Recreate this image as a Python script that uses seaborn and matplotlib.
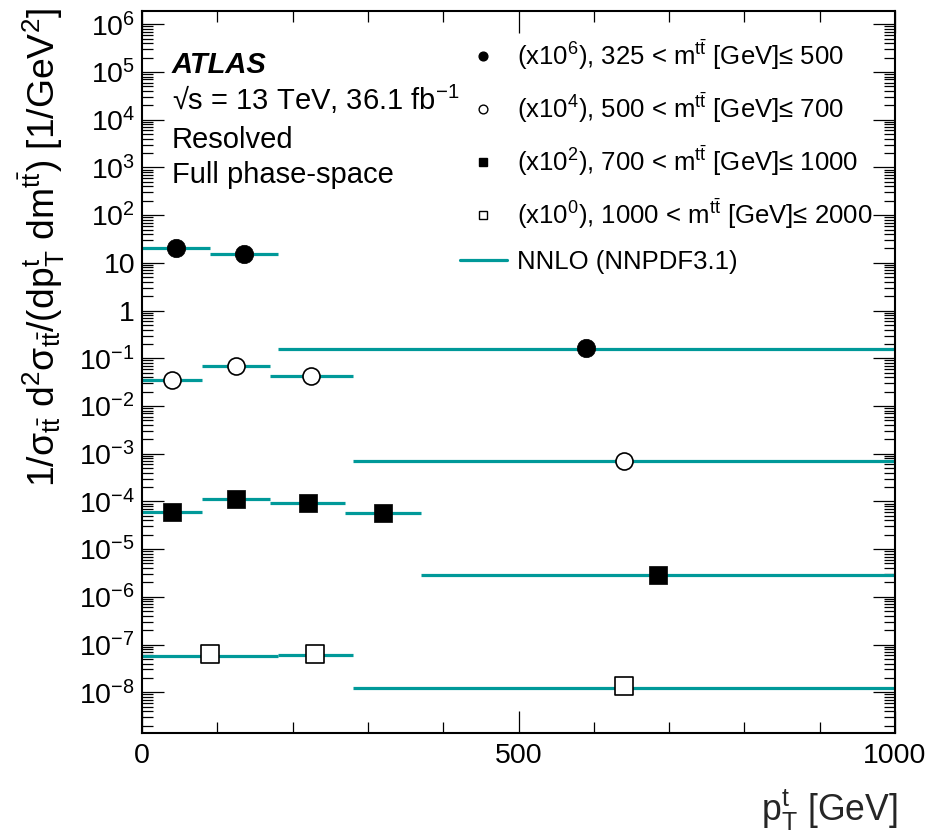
import numpy as np
import pandas as pd
import matplotlib
matplotlib.use("Agg")
import matplotlib.pyplot as plt
import seaborn as sns
from matplotlib.lines import Line2D
from matplotlib.ticker import FixedLocator, MultipleLocator, LogLocator, NullFormatter, FuncFormatter

# ---------------- data ----------------
edges_325_500 = [0, 90, 180, 1000]
meas_325_500 = [20.1, 15.1, 0.161]
nnlo_325_500 = [20.0, 15.0, 0.160]

edges_500_700 = [0, 80, 170, 280, 1000]
meas_500_700 = [0.0349, 0.0697, 0.0430, 7.1e-4]
nnlo_500_700 = [0.0350, 0.0700, 0.0435, 7.1e-4]

edges_700_1000 = [0, 80, 170, 270, 370, 1000]
meas_700_1000 = [6.05e-5, 1.12e-4, 9.2e-5, 5.6e-5, 2.89e-6]
nnlo_700_1000 = [6.0e-5, 1.12e-4, 9.2e-5, 5.7e-5, 2.86e-6]

edges_1000_2000 = [0, 180, 280, 1000]
meas_1000_2000 = [6.2e-8, 6.2e-8, 1.36e-8]
nnlo_1000_2000 = [5.8e-8, 5.9e-8, 1.2e-8]

labels = [
    r"(x10$^{6}$), 325 < m$^{t\bar{t}}$ [GeV]≤ 500",
    r"(x10$^{4}$), 500 < m$^{t\bar{t}}$ [GeV]≤ 700",
    r"(x10$^{2}$), 700 < m$^{t\bar{t}}$ [GeV]≤ 1000",
    r"(x10$^{0}$), 1000 < m$^{t\bar{t}}$ [GeV]≤ 2000",
]
nnlo_label = "NNLO (NNPDF3.1)"
ytick_exponents = list(range(-8, 7))

# ---------------- style ----------------
sns.set_theme(style="ticks")
plt.rcParams.update({
    "font.family": ["Liberation Sans", "DejaVu Sans"],
    "mathtext.fontset": "custom",
    "mathtext.rm": "Liberation Sans",
    "mathtext.it": "Liberation Sans:italic",
    "mathtext.bf": "Liberation Sans:bold",
    "mathtext.sf": "Liberation Sans",
    "mathtext.default": "regular",
    "axes.linewidth": 1.5,
    "axes.edgecolor": "black",
    "text.color": "black",
    "xtick.color": "black",
    "ytick.color": "black",
})

TEAL = "#009999"

fig = plt.figure(figsize=(9.3, 8.38), dpi=100)
ax = fig.add_axes([142 / 930, 105 / 838, 753 / 930, 722 / 838])

series = [
    (edges_325_500, meas_325_500, nnlo_325_500, "o", "black", 175),
    (edges_500_700, meas_500_700, nnlo_500_700, "o", "white", 150),
    (edges_700_1000, meas_700_1000, nnlo_700_1000, "s", "black", 160),
    (edges_1000_2000, meas_1000_2000, nnlo_1000_2000, "s", "white", 160),
]

for edges, meas, nnlo, mk, fc, size in series:
    e = np.asarray(edges, dtype=float)
    ax.hlines(nnlo, e[:-1], e[1:], color=TEAL, lw=2.3, zorder=2)
    df = pd.DataFrame({"pt": 0.5 * (e[:-1] + e[1:]), "val": meas})
    sns.scatterplot(data=df, x="pt", y="val", marker=mk, s=size,
                    facecolor=fc, edgecolor="black",
                    linewidth=1.2 if fc == "white" else 0.5,
                    ax=ax, zorder=3, legend=False)

ax.set_yscale("log")
ax.set_xlim(0, 1000)
ax.set_ylim(1.4e-9, 1.9e6)

ax.xaxis.set_major_locator(FixedLocator([0, 500, 1000]))
ax.xaxis.set_minor_locator(MultipleLocator(100))
ax.yaxis.set_major_locator(FixedLocator([10.0 ** k for k in ytick_exponents]))
ax.yaxis.set_minor_locator(LogLocator(base=10, subs=np.arange(2, 10), numticks=100))
ax.yaxis.set_minor_formatter(NullFormatter())


def yfmt(v, pos):
    k = int(round(np.log10(v)))
    if k == 0:
        return "1"
    if k == 1:
        return "10"
    return r"$10^{%d}$" % k


ax.yaxis.set_major_formatter(FuncFormatter(yfmt))
ax.tick_params(which="both", direction="in", top=True, right=True,
               width=0.9, labelsize=20.5)
ax.tick_params(which="major", length=15.8)
ax.tick_params(which="minor", length=7.9)
ax.tick_params(axis="y", which="major", pad=5)
ax.tick_params(axis="x", which="major", pad=7)

ax.set_xlabel(r"p$_{T}^{t}$ [GeV]", fontsize=25.7, loc="right")
ax.xaxis.set_label_coords(1.0 + 3 / 753, -0.075)
ax.set_ylabel("")
fig.text(42 / 930, 1 - 8 / 838,
         r"1/$\sigma_{t\bar{t}}$ d$^{2}\sigma_{t\bar{t}}$/(dp$_{T}^{t}$ dm$^{t\bar{t}}$) [1/GeV$^{2}$]",
         rotation=90, ha="center", va="top", fontsize=26.8)

# annotations
fig.text(171.7 / 930, 1 - 72.7 / 838, "ATLAS", fontsize=21, fontweight="bold",
         fontstyle="italic", va="baseline", ha="left")
fig.text(171.7 / 930, 1 - 110 / 838, r"√s = 13 TeV, 36.1 fb$^{-1}$",
         fontsize=21, va="baseline", ha="left")
fig.text(171.7 / 930, 1 - 147.7 / 838, "Resolved", fontsize=21, va="baseline", ha="left")
fig.text(171.7 / 930, 1 - 183.3 / 838, "Full phase-space", fontsize=21,
         va="baseline", ha="left")

# legend
handles = [
    Line2D([], [], ls="none", marker="o", ms=6.3, mfc="black", mec="black"),
    Line2D([], [], ls="none", marker="o", ms=6.3, mfc="white", mec="black", mew=1.0),
    Line2D([], [], ls="none", marker="s", ms=5.8, mfc="black", mec="black"),
    Line2D([], [], ls="none", marker="s", ms=6.3, mfc="white", mec="black", mew=1.0),
    Line2D([], [], color=TEAL, lw=2.3),
]
leg = ax.legend(handles, labels + [nnlo_label], loc="upper left",
                bbox_to_anchor=(460 / 930, 1 - 38 / 838), bbox_transform=fig.transFigure,
                frameon=False, fontsize=18.5, handlelength=1.82, handletextpad=0.39,
                labelspacing=0.73, borderpad=0, borderaxespad=0)

fig.savefig("out.png", dpi=100)
